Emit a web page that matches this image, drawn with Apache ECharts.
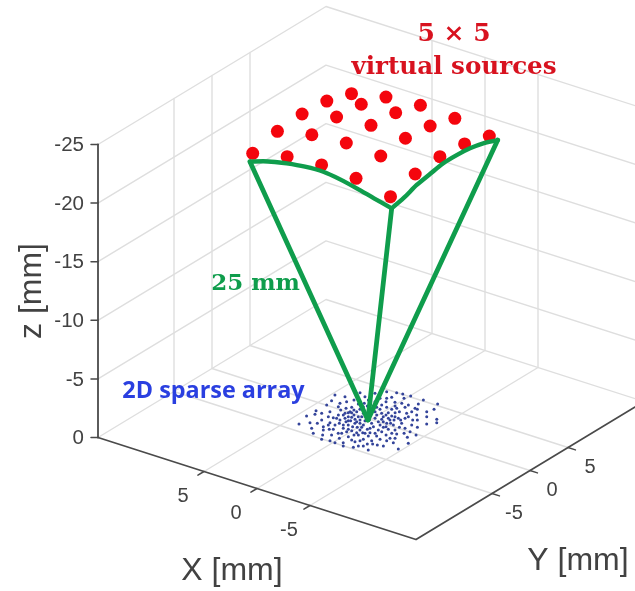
<!DOCTYPE html>
<html>
<head>
<meta charset="utf-8">
<style>html,body{margin:0;padding:0;background:#fff}#c{width:635px;height:591px;filter:blur(0.45px)}</style>
<script src="https://cdn.jsdelivr.net/npm/echarts@6/dist/echarts.min.js"></script>
</head>
<body>
<div id="c"></div>
<script>
// ---- data (millimetres) ----
const axisLimit = 15;
const zBottom = 0, zTop = -25;
const xTicks = [5, 0, -5];
const yTicks = [-5, 0, 5];
const zTicks = [0, -5, -10, -15, -20, -25];

// virtual sources: rows along Y, columns along X
const sourceX = [6.5, 3.25, 0, -3.25, -6.5];
const sourceY = [-6.5, -3.25, 0, 3.25, 6.5];
const sourceZ = [
  [-23.38, -24.03, -24.27, -24.07, -23.45],
  [-23.98, -24.63, -24.87, -24.70, -24.11],
  [-24.18, -24.87, -25.10, -24.94, -24.31],
  [-24.01, -24.68, -24.90, -24.71, -24.12],
  [-23.36, -24.02, -24.26, -24.09, -23.52]
];

// green outline, from the array centre to the aperture corners and along two edges
const apex = [0.15, -0.2, 0];
const cornerLeft = [6.42, -6.97, -22.87];
const cornerFront = [-6.95, -6.97, -22.77];
const cornerRight = [-6.95, 6.98, -23.12];
const arcLeftFront = [
  [6.42, -6.97, -22.87], [5.16, -6.97, -23.27], [4.06, -6.97, -23.53], [2.95, -6.97, -23.74],
  [1.23, -6.97, -23.95], [-0.50, -6.97, -24.02], [-2.08, -6.97, -23.83], [-3.65, -6.97, -23.52],
  [-5.28, -6.97, -23.14], [-6.95, -6.97, -22.77]
];
const arcFrontRight = [
  [-6.95, -6.97, -22.77], [-6.95, -5.35, -23.04], [-6.95, -3.68, -23.47], [-6.95, -1.93, -23.72],
  [-6.95, -0.18, -23.95], [-6.95, 1.58, -23.96], [-6.95, 3.33, -23.85], [-6.95, 5.08, -23.59],
  [-6.95, 6.98, -23.12]
];

// sparse array elements on z = 0
const elements = [
[4.72,1.84],[3.93,2.06],[3.41,3.31],[2.70,2.97],[2.42,3.90],[1.87,4.67],[1.15,4.98],[0.64,5.07],[-0.05,5.15],[-1.24,5.16],
[4.35,0.88],[3.32,1.42],[3.04,2.00],[2.06,1.99],[1.57,2.72],[0.89,3.22],[0.27,3.53],[0.12,4.51],[-1.34,4.36],[-2.53,5.24],
[4.29,-1.25],[4.21,0.04],[3.32,0.33],[2.68,0.45],[2.43,0.85],[1.78,1.47],[0.89,1.99],[0.27,2.44],[-0.11,3.01],[-0.86,3.28],[-1.82,3.56],[-2.85,4.32],[-2.64,3.65],
[4.33,-2.44],[3.98,-1.82],[3.33,-0.76],[2.47,-0.85],[2.10,-0.06],[1.68,0.46],[1.10,0.53],[-0.03,1.36],[-0.37,1.76],[-0.79,2.07],[-1.57,2.50],[-2.36,2.72],[-3.15,2.94],
[2.99,-2.32],[2.51,-1.46],[1.72,-1.02],[1.41,-0.58],[0.63,-0.57],[-0.13,0.35],[-0.64,0.51],[-1.22,0.79],[-1.57,1.41],[-2.02,2.10],[-2.91,2.04],[-4.04,3.02],
[3.98,-3.92],[3.44,-3.23],[2.21,-3.19],[2.21,-2.32],[1.56,-1.99],[0.84,-1.82],[0.60,-1.28],[-0.09,-1.13],[-0.43,-0.52],[-1.12,-0.37],[-1.36,0.17],[-1.94,0.24],[-2.28,0.85],[-3.07,1.07],[-4.38,2.54],[-3.89,1.90],
[2.76,-3.96],[1.87,-3.67],[1.32,-3.12],[0.81,-2.52],[0.05,-2.47],[-0.39,-2.00],[-0.84,-1.30],[-1.52,-1.16],[-2.07,-0.61],[-2.55,-0.40],[-3.00,0.29],[-3.66,1.00],
[2.15,-4.60],[1.40,-4.41],[0.85,-4.00],[0.40,-3.30],[-0.35,-3.47],[-0.80,-2.78],[-1.04,-2.24],[-2.03,-2.09],[-2.51,-1.52],[-3.06,-0.89],[-3.45,-0.46],[-4.36,-0.15],
[1.02,-5.07],[0.37,-4.88],[-0.14,-4.94],[-0.65,-4.56],[-0.90,-3.80],[-1.55,-3.17],[-2.20,-2.98],[-3.12,-2.29],[-3.40,-1.58],[-4.06,-0.88],[-4.73,-1.69],[-3.74,-2.28],
[-0.99,-5.03],[-1.75,-4.76],[-1.92,-4.34],[-2.23,-4.12],[-2.94,-4.46],[-2.60,-3.41],[-2.99,-3.34],[-3.46,-3.20],[-4.69,-2.95],
[2.09,0.16],[1.51,-0.14],[1.07,-0.18],[1.14,-1.09],[1.00,-0.71],[0.29,-1.05],[0.39,-0.03],[0.52,0.59],[0.55,1.30],[0.48,1.85],[-0.47,0.96],[-0.67,0.03],[-0.88,-0.91],[-0.78,-1.57],[-0.83,-2.25],[0.05,-1.74],[0.40,-1.86],[0.40,-2.43],[1.32,-1.45],[2.17,-0.62],[2.84,-0.03],[2.24,-1.40],[1.66,-2.42],[0.61,-3.46],
[1.03,1.30],[1.60,1.75],[2.36,1.62],[0.82,2.55],[-0.24,2.39],[-0.92,1.44],[-1.66,-0.34],[-1.90,-1.24],[-1.66,-1.78],[-1.52,-2.47],[-0.53,-2.98],[0.26,-2.84],[-0.95,2.41],[-1.88,1.28],[-2.55,0.18],[-1.71,2.97],[-2.62,1.83],[-3.65,0.05],[1.57,-3.30],[2.92,-1.54],[3.67,-1.37],[2.92,-2.99],[3.56,0.88],[1.60,3.42],[0.98,4.09],[2.15,2.65],[-1.27,-3.88],[-2.58,-2.41],[-2.27,-3.65],[0.03,-4.12],
[1.69,-0.63],[1.89,0.09],[1.28,-1.20],[0.66,-0.96],[2.02,0.57],[0.86,-0.02],[0.25,-0.44],[0.05,-0.15],[0.11,0.90],[-0.47,1.32],[-0.95,0.96],[-1.47,0.98],[-0.98,0.25],[-1.60,0.35],[-1.19,1.50],[-0.45,2.76],[-0.25,3.70],[1.19,3.72],[1.23,2.02],[1.72,0.94],[2.23,-0.31],[1.86,-1.49],[1.15,-2.04],[-0.46,-2.53],[-1.28,-1.92],[-1.56,-0.55],[-2.69,-1.02],[-0.22,-1.54],[2.07,-2.73],[-3.09,-1.81],[-1.48,-3.51],[-0.83,3.76],[-1.98,1.72],[-1.58,3.59]
];

// ---- text ----
const xAxisTitle = 'X [mm]', yAxisTitle = 'Y [mm]', zAxisTitle = 'z [mm]';
const titleSources1 = '5 \u00d7 5', titleSources2 = 'virtual sources';
const titleRadius = '25 mm', titleArray = '2D sparse array';

// ---- oblique projection of the MATLAB 3-D box onto the page ----
function project(x, y, z) {
  return [371 - 10.6 * x + 7.6 * y, 419.5 - 3.4 * x - 4.6 * y + 11.72 * z];
}
const P = p => project(p[0], p[1], p[2]);
const L = axisLimit;
const GRID = '#dedede', AXIS = '#4a4a4a', TEXT = '#424242', SANS = '"Liberation Sans", Arial, sans-serif';

function poly(points, color, width, z, smooth) {
  return { type: 'line', data: points, showSymbol: false, silent: true, animation: false, z: z,
    smooth: smooth || false,
    lineStyle: { color: color, width: width, cap: 'round', join: 'round' } };
}
function label(pos, text, font) {
  return { value: pos, label: Object.assign({ show: true, formatter: () => text, position: 'inside',
    align: 'center', verticalAlign: 'middle', fontFamily: SANS, color: TEXT, opacity: 1 }, font) };
}
const series = [];
// floor grid
for (const t of xTicks) series.push(poly([project(t, -L, 0), project(t, L, 0)], GRID, 1.4, 1));
for (const t of yTicks) series.push(poly([project(-L, t, 0), project(L, t, 0)], GRID, 1.4, 1));
// wall grid
for (const t of yTicks) series.push(poly([project(L, t, zBottom), project(L, t, zTop)], GRID, 1.4, 1));
for (const t of xTicks) series.push(poly([project(t, L, zBottom), project(t, L, zTop)], GRID, 1.4, 1));
for (const t of zTicks) series.push(poly([project(L, -L, t), project(L, L, t), project(-L, L, t)], GRID, 1.4, 1));
// axes
series.push(poly([project(L, -L, 0), project(L, -L, zTop)], AXIS, 1.8, 2));
series.push(poly([project(L, -L, 0), project(-L, -L, 0), project(-L, L, 0)], AXIS, 1.8, 2));
// ticks
for (const t of zTicks) { const a = project(L, -L, t); series.push(poly([a, [a[0] - 7, a[1]]], AXIS, 1.5, 2)); }
for (const t of xTicks) series.push(poly([project(t, -L, 0), project(t, -L - 0.8, 0)], AXIS, 1.5, 2));
for (const t of yTicks) series.push(poly([project(-L, t, 0), project(-L - 0.7, t, 0)], AXIS, 1.5, 2));
// array elements
series.push({ type: 'scatter', silent: true, animation: false, z: 3, symbolSize: 3,
  itemStyle: { color: '#34449a', opacity: 1 }, data: elements.map(e => project(e[0], e[1], 0)) });
// virtual sources
const sources = [];
sourceY.forEach((y, r) => sourceX.forEach((x, c) => sources.push(project(x, y, sourceZ[r][c]))));
series.push({ type: 'scatter', silent: true, animation: false, z: 4, symbolSize: 13,
  itemStyle: { color: '#f4050d', opacity: 1 }, data: sources });
// green outline
const GREEN = '#0f9d4c';
series.push(poly([P(apex), P(cornerLeft)], GREEN, 4.8, 5));
series.push(poly([P(apex), P(cornerFront)], GREEN, 4.8, 5));
series.push(poly([P(apex), P(cornerRight)], GREEN, 4.8, 5));
series.push(poly(arcLeftFront.map(P), GREEN, 4.4, 5, 0.3));
series.push(poly(arcFrontRight.map(P), GREEN, 4.4, 5, 0.3));
// text
const texts = [];
for (const t of zTicks) { const a = project(L, -L, t);
  texts.push(label([a[0] - 14, a[1] + 1], String(t), { fontSize: 20.5, align: 'right' })); }
for (const t of xTicks) { const a = project(t, -L, 0);
  texts.push(label([a[0] - 21, a[1] + 25], String(t), { fontSize: 20 })); }
for (const t of yTicks) { const a = project(-L, t, 0);
  texts.push(label([a[0] + 22, a[1] + 20], String(t), { fontSize: 20 })); }
texts.push(label([232, 571], xAxisTitle, { fontSize: 32 }));
texts.push(label([578, 561], yAxisTitle, { fontSize: 32 }));
texts.push(label([32, 291], zAxisTitle, { fontSize: 32, rotate: 90 }));
const SERIF = '"DejaVu Serif", serif';
texts.push(label([454, 34], titleSources1, { fontSize: 25, fontWeight: 'bold', fontFamily: SERIF, color: '#d8121f' }));
texts.push(label([454, 68], titleSources2, { fontSize: 24.6, fontWeight: 'bold', fontFamily: SERIF, color: '#d8121f' }));
texts.push(label([255.5, 284], titleRadius, { fontSize: 23, fontWeight: 'bold', fontFamily: SERIF, color: GREEN }));
texts.push(label([213.5, 391], titleArray, { fontSize: 23.4, fontWeight: 'bold', fontFamily: '"Open Sans", sans-serif', color: '#2a3fe0' }));
series.push({ type: 'scatter', silent: true, animation: false, z: 6, symbolSize: 1,
  itemStyle: { color: 'rgba(0,0,0,0)', opacity: 1 }, data: texts });

const chart = echarts.init(document.getElementById('c'), null, { renderer: 'canvas', width: 635, height: 591 });
chart.setOption({
  animation: false,
  backgroundColor: '#ffffff',
  grid: { left: 0, right: 0, top: 0, bottom: 0 },
  xAxis: { type: 'value', min: 0, max: 635, show: false },
  yAxis: { type: 'value', min: 0, max: 591, inverse: true, show: false },
  series: series
});
</script>
</body>
</html>
